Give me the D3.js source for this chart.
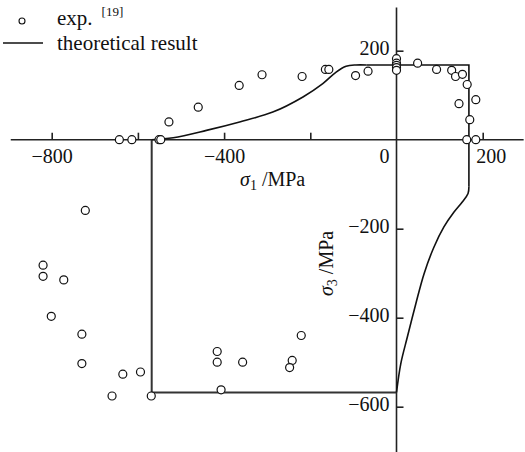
<!doctype html>
<html>
	<head>
		<style>
			body{ margin: 0; background: #fff; }
			#chart{ display: block; }
			#chart text{ font-family: "Liberation Serif", "Times New Roman", serif; }
			#chart .tick line, #chart .axisline{ stroke: #222; stroke-width: 1.6; }
			#chart .tick text{ font-size: 20px; fill: #111; }
		</style>
	</head>
	<body>
		<svg id=chart></svg>

		<script src="https://d3js.org/d3.v7.min.js"></script>
		<script>
			// tick values
			var xTicks = [-800, -600, -400, -200, 200],
				xLabelled = [-800, -400, 200],
				yTicks = [-600, -400, -200, 200];

			// experimental points [sigma1, sigma3]
			var expPoints = [
				[-643, 0], [-614, 0], [-551, 0], [-547, 0], [-528, 40], [-460, 73], [-365, 122], [-312, 146],
				[-219, 142], [-165, 158], [-157, 158], [-95, 144], [-66, 154],
				[0, 182], [0, 172], [0, 167], [0, 162], [0, 156],
				[49, 172], [93, 158], [128, 156], [137, 142], [153, 147], [164, 124], [145, 81], [184, 90],
				[170, 45], [163, 0], [184, 0],
				[-722, -159], [-820, -282], [-820, -307], [-772, -315], [-801, -397], [-730, -437], [-730, -503],
				[-635, -527], [-594, -522], [-660, -576], [-569, -576], [-416, -476], [-416, -500], [-357, -500],
				[-407, -562], [-221, -440], [-242, -496], [-248, -512]
			];

			// theoretical result, split into smooth and straight parts
			var upperCurve = [[-568, 0], [-518, 4.5], [-441, 21], [-364, 40], [-287, 62], [-217, 96], [-171, 126],
				[-140, 152], [-117, 165], [-94, 168], [-70, 168]];
			var cornerLine = [[-70, 168], [168, 168], [168, -106]];
			var lowerCurve = [[168, -106], [166, -121], [152.6, -140], [133, -163], [110, -196], [87, -241],
				[64, -301], [45, -368], [25, -444], [10, -503], [0, -568]];
			var boxLine = [[-568, 0], [-568, -568], [0, -568]];

			var axisExtentX = [-895, 295],
				axisExtentY = [-703, 297];

			var chart = d3.select("#chart").attr("width", 525).attr("height", 452);

			var x = d3.scaleLinear().domain([-800, 200]).range([51.7, 482.7]);
			var y = d3.scaleLinear().domain([-600, 200]).range([406.7, 50.7]);

			// axis lines through origin
			chart.append("line").attr("class", "axisline")
				.attr("x1", x(axisExtentX[0])).attr("x2", x(axisExtentX[1]))
				.attr("y1", y(0)).attr("y2", y(0));
			chart.append("line").attr("class", "axisline")
				.attr("x1", x(0)).attr("x2", x(0))
				.attr("y1", y(axisExtentY[1])).attr("y2", y(axisExtentY[0]));

			var fmt = d3.format("d");
			var xAxis = d3.axisBottom(x)
				.tickValues(xTicks)
				.tickSize(-7)
				.tickPadding(9)
				.tickFormat(function(d) { return xLabelled.indexOf(d) >= 0 ? fmt(d) : ""; });
			var gx = chart.append("g")
				.attr("transform", "translate(0," + y(0) + ")")
				.call(xAxis)
				.attr("font-family", null);
			gx.select(".domain").remove();
			gx.selectAll(".tick text").filter(function(d) { return d === 200; }).attr("dx", 8);

			var yAxis = d3.axisLeft(y)
				.tickValues(yTicks)
				.tickSize(-7)
				.tickPadding(7)
				.tickFormat(fmt);
			var gy = chart.append("g")
				.attr("transform", "translate(" + x(0) + ",0)")
				.call(yAxis)
				.attr("font-family", null);
			gy.select(".domain").remove();
			gy.selectAll(".tick text").attr("dy", "0.2em");

			// origin label
			chart.append("text")
				.attr("x", x(0) - 7).attr("y", y(0) + 9).attr("dy", "0.71em")
				.attr("text-anchor", "end").attr("font-size", 20).attr("fill", "#111")
				.text("0");

			// theory lines
			var lineSmooth = d3.line().x(function(d) { return x(d[0]); }).y(function(d) { return y(d[1]); })
				.curve(d3.curveCatmullRom.alpha(0.5));
			var lineStraight = d3.line().x(function(d) { return x(d[0]); }).y(function(d) { return y(d[1]); });

			chart.append("path").datum(boxLine).attr("d", lineStraight)
				.attr("fill", "none").attr("stroke", "#333").attr("stroke-width", 2);
			[upperCurve, lowerCurve].forEach(function(c) {
				chart.append("path").datum(c).attr("d", lineSmooth)
					.attr("fill", "none").attr("stroke", "#111").attr("stroke-width", 1.6);
			});
			chart.append("path").datum(cornerLine).attr("d", lineStraight)
				.attr("fill", "none").attr("stroke", "#111").attr("stroke-width", 1.6);

			// experimental circles
			chart.selectAll("circle.exp")
				.data(expPoints)
				.enter().append("circle")
					.attr("class", "exp")
					.attr("cx", function(d) { return x(d[0]); })
					.attr("cy", function(d) { return y(d[1]); })
					.attr("r", 4)
					.attr("fill", "#fff")
					.attr("stroke", "#111")
					.attr("stroke-width", 1.2);

			// axis titles
			var xt = chart.append("text").attr("x", 240).attr("y", 186).attr("font-size", 20).attr("fill", "#111");
			xt.append("tspan").attr("font-style", "italic").text("σ");
			xt.append("tspan").attr("font-size", 14).attr("dy", 4).text("1");
			xt.append("tspan").attr("dy", -4).text(" /MPa");

			var yt = chart.append("text").attr("transform", "translate(333,296) rotate(-90)")
				.attr("font-size", 20).attr("fill", "#111");
			yt.append("tspan").attr("font-style", "italic").text("σ");
			yt.append("tspan").attr("font-size", 14).attr("dy", 4).text("3");
			yt.append("tspan").attr("dy", -4).text(" /MPa");

			// legend
			var legend = chart.append("g");
			legend.append("circle").attr("cx", 22).attr("cy", 21).attr("r", 3)
				.attr("fill", "#fff").attr("stroke", "#111").attr("stroke-width", 1.1);
			var lt = legend.append("text").attr("x", 57).attr("y", 25).attr("font-size", 21).attr("fill", "#111");
			lt.append("tspan").text("exp.");
			lt.append("tspan").attr("font-size", 13).attr("dx", 9).attr("dy", -9).text("[19]");
			legend.append("line").attr("x1", 3).attr("x2", 43).attr("y1", 43).attr("y2", 43)
				.attr("stroke", "#111").attr("stroke-width", 1.6);
			legend.append("text").attr("x", 57).attr("y", 50).attr("font-size", 21).attr("fill", "#111")
				.text("theoretical result");
		</script>
	</body>
</html>
